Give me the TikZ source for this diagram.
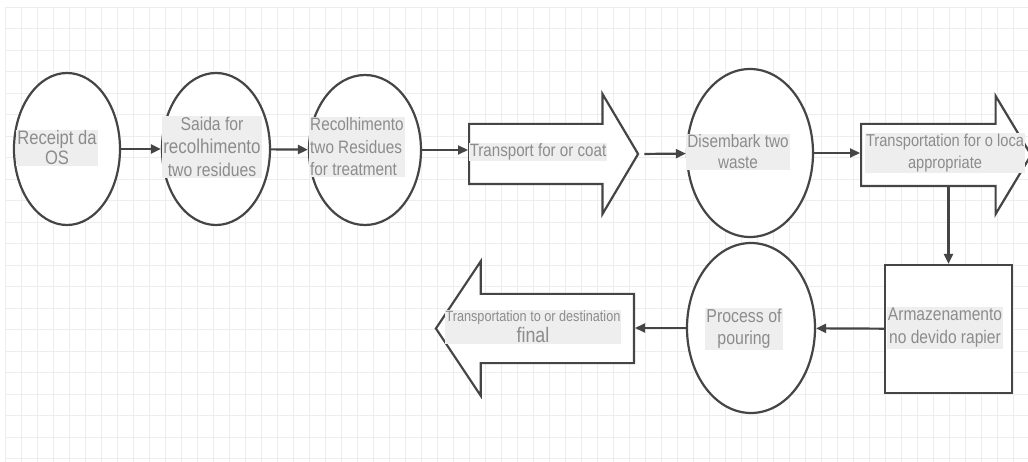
\documentclass[tikz,border=0pt]{standalone}
\usepackage{fontspec}
\setmainfont{Liberation Sans}[FakeStretch=0.85]
\usetikzlibrary{shapes.geometric,shapes.arrows,arrows.meta}

\definecolor{linegray}{HTML}{454545}
\definecolor{txtgray}{HTML}{8C8C8C}
\definecolor{hlgray}{HTML}{EEEEEE}
\definecolor{gridgray}{HTML}{EDEDED}

\begin{document}
\begin{tikzpicture}[x=1pt,y=-1pt]

      \useasboundingbox (0,0) rectangle (1028,462);
      \fill[white] (0,0) rectangle (1028,462);

      % background grid
      \foreach \gx in {5,21,...,1021}
        \draw[gridgray,line width=.8pt] (\gx,7) -- (\gx,462);
      \foreach \gy in {7,28.5,...,460}
        \draw[gridgray,line width=.8pt] (5,\gy) -- (1028,\gy);

      \begin{scope}[every node/.style={ellipse,draw=linegray,line width=2.2pt,fill=white,inner sep=0pt}]
        \node[minimum width=106pt,minimum height=152pt] (e1) at (67,149)  {};
        \node[minimum width=108pt,minimum height=152pt] (e2) at (216,149) {};
        \node[minimum width=112pt,minimum height=150pt] (e3) at (365,150) {};
        \node[minimum width=126pt,minimum height=168pt] (e4) at (750,153) {};
        \node[minimum width=128pt,minimum height=170pt] (e5) at (751,328) {};
        \node[rectangle,minimum width=127pt,minimum height=128pt] (b1) at (948.5,329) {};
      \end{scope}

      \begin{scope}[every node/.style={single arrow,draw=linegray,line width=2.2pt,fill=white,
                    inner xsep=0pt,single arrow head indent=0pt,anchor=tail}]
        \node[inner ysep=29pt,minimum height=169pt,single arrow head extend=30pt,
              single arrow tip angle=118.6] (a1) at (468,154) {};
        \node[inner ysep=30pt,minimum height=170pt,single arrow head extend=28pt,
              single arrow tip angle=118] (a2) at (860,155) {};
        \node[shape border rotate=180,inner ysep=33.5pt,minimum height=198pt,
              single arrow head extend=32.5pt,single arrow tip angle=112.6] (a3) at (635,328.5) {};
      \end{scope}

      \begin{scope}[every node/.style={fill=hlgray,text=txtgray,inner sep=1pt,align=center}]
        \node[font=\fontsize{19.5}{20}\selectfont] (t1) at (57,148) {Receipt da\\OS};
        \node[font=\fontsize{18.5}{23}\selectfont] (t2) at (212,147)
          {Saida for\\{\fontsize{20}{23}\selectfont recolhimento}\\two residues};
        \node[font=\fontsize{18}{22.5}\selectfont,align=left,anchor=west] (t3) at (309,147)
          {Recolhimento\\two Residues\\for treatment};
        \node[font=\fontsize{17.8}{22}\selectfont] (t4) at (538,152) {Transport for or coat};
        \node[font=\fontsize{18}{21}\selectfont] (t5) at (738,152) {Disembark two\\waste};
        \node[font=\fontsize{17.2}{22}\selectfont] (t6) at (945,153) {Transportation for o loca\\appropriate};
        \node[font=\fontsize{18.3}{23}\selectfont] (t7) at (945,328) {Armazenamento\\no devido rapier};
        \node[font=\fontsize{18.7}{22}\selectfont] (t8) at (744,329) {Process of\\pouring};
        \node[font=\fontsize{14.9}{21}\selectfont] (t9) at (533,327)
          {Transportation to or destination\\{\fontsize{21}{21}\selectfont final}};
      \end{scope}

      \begin{scope}[every edge/.style={draw=linegray,line width=2.2pt,-{Triangle[length=10pt,width=9pt]}}]
        \path (e1) edge (e2);
        \path (e2) edge (e3);
        \path (e3.east) edge (e3.east -| a1.tail);
        \path (a1.tip) edge[shorten <=5pt] (e4);
        \path (e4.east) edge (e4.east -| a2.tail);
        \path (a2.south -| b1.north) edge (b1.north);
        \path (b1) edge (e5);
        \path (e5.west) edge (e5.west -| a3.tail);
      \end{scope}

    \end{tikzpicture}
\end{document}
